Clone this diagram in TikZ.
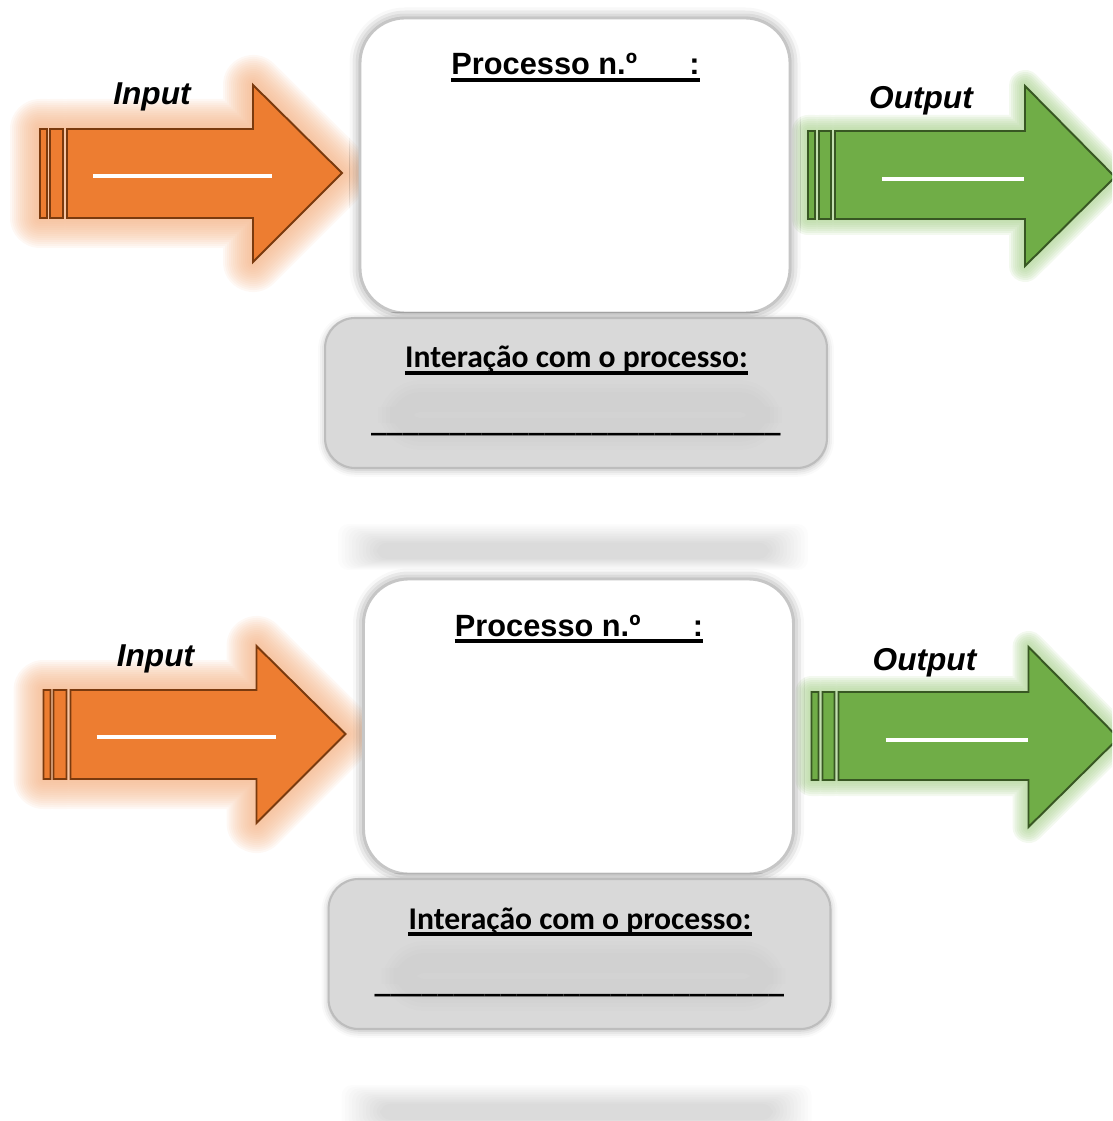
\documentclass[tikz,border=0pt]{standalone}
\usepackage{fontspec}
\setmainfont{Liberation Sans}
\newfontfamily\calibri{Carlito}
\usetikzlibrary{shadows.blur}

\definecolor{inorange}{HTML}{ED7D31}
\definecolor{inedge}{HTML}{7A3A0E}
\definecolor{inglow}{HTML}{F4B183}
\definecolor{outgreen}{HTML}{70AD47}
\definecolor{outedge}{HTML}{385723}
\definecolor{outglow}{HTML}{A9D18E}
\definecolor{boxedge}{HTML}{C6C6C6}
\definecolor{intfill}{HTML}{D9D9D9}
\definecolor{intedge}{HTML}{BDBDBD}

\def\inshape{(67,129) -- (253,129) -- (253,85) -- (342,173) -- (253,262) -- (253,218) -- (67,218) -- cycle
  (40,129) rectangle (47,218) (50,129) rectangle (63,218)}
\def\outshape{(835,131) -- (1025,131) -- (1025,86) -- (1115,177) -- (1025,266) -- (1025,219) -- (835,219) -- cycle
  (808,131) rectangle (815,219) (819,131) rectangle (831,219)}

% one process sheet, #1 = name prefix, #2 = shift
\newcommand{\procblock}[2]{%
\begin{scope}[shift={#2}]
	% input arrow
	\foreach \r in {30,28,...,2}
		\draw[line width=2*\r*0.02cm, draw=inglow, opacity=0.085, line join=round] \inshape;
	\draw[inarrow] \inshape;
	\draw[whiteline] (93,176) -- (272,176);
	\node[arrowlabel] (#1in) at (152,105) {Input};
	% output arrow
	\foreach \r in {16,14,...,2}
		\draw[line width=2*\r*0.02cm, draw=outglow, opacity=0.14, line join=round] \outshape;
	\draw[outarrow] \outshape;
	\draw[whiteline] (882,179) -- (1024,179);
	\node[arrowlabel] (#1out) at (921,109) {Output};
	% process box
	\node[procbox] (#1box) at (575,165.5) {};
	\node[titletext] (#1title) at (575.5,75) {Processo n.º\hspace{1.7em}:};
	\draw[ulline] ([yshift=-0.1cm]#1title.base west) -- ([yshift=-0.1cm]#1title.base east);
	% interaction box
	\node[intbox] (#1int) at (576,393) {};
	\foreach \w in {44,36,28,20}
		\draw[black, opacity=0.006, line width=\w*0.02cm, rounded corners=12pt] (400,402) rectangle (760,428);
	\node[inttext] (#1inttitle) at (576.5,368) {Interação com o processo:};
	\draw[ulline] ([yshift=-0.1cm]#1inttitle.base west) -- ([yshift=-0.1cm]#1inttitle.base east);
	\node[inttext] (#1intline) at (576,431) {\_\_\_\_\_\_\_\_\_\_\_\_\_\_\_\_\_\_\_\_\_\_\_\_\_\_};
	% reflection
	\foreach \i in {0,...,11}
		\fill[black, opacity=0.012, rounded corners=6pt] (338+\i*3.5,524+\i*1.7) rectangle (808-\i*3.5,570-\i*1);
\end{scope}}

\begin{document}
\begin{tikzpicture}[
		x=0.02cm, y=-0.02cm,
		inarrow/.style={fill=inorange, draw=inedge, line width=1.1pt, line join=miter},
		outarrow/.style={fill=outgreen, draw=outedge, line width=1.1pt, line join=miter},
		whiteline/.style={draw=white, line width=2pt},
		arrowlabel/.style={anchor=base, inner sep=0pt, font=\fontsize{18}{21}\selectfont\bfseries\itshape},
		procbox/.style={draw=boxedge, line width=1.6pt, fill=white, rounded corners=0.9cm,
			minimum width=8.6cm, minimum height=5.9cm,
			blur shadow={shadow xshift=0pt, shadow yshift=0pt, shadow blur radius=6pt, shadow opacity=45}},
		intbox/.style={draw=intedge, line width=1.2pt, fill=intfill, rounded corners=0.6cm,
			minimum width=10.04cm, minimum height=3cm,
			blur shadow={shadow xshift=0pt, shadow yshift=-1pt, shadow blur radius=4pt, shadow opacity=30}},
		titletext/.style={anchor=base, inner sep=0pt, font=\fontsize{17.5}{21}\selectfont\bfseries},
		inttext/.style={anchor=base, inner sep=0pt, font=\calibri\fontsize{18}{22}\selectfont\bfseries},
		ulline/.style={line width=1.9pt}
		]
		\useasboundingbox (0,0) rectangle (1112,1121);
		\clip (0,0) rectangle (1112,1121);
		\procblock{a}{(0,0)}
		\procblock{b}{(3.5,561)}
		\end{tikzpicture}
\end{document}
